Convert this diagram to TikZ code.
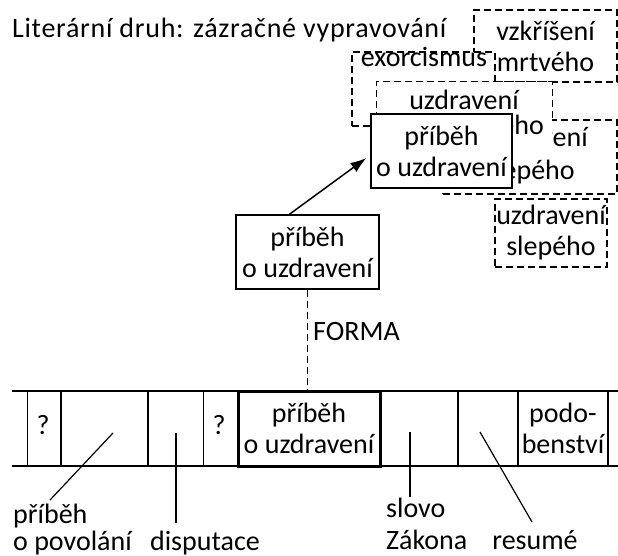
\documentclass[tikz,border=0pt]{standalone}
\usepackage{fontspec}
\setmainfont{Carlito}
\usetikzlibrary{arrows.meta}
\begin{document}
\begin{tikzpicture}[x=1pt,y=-1pt,
  txt/.style={font=\fontsize{28}{31}\selectfont, inner sep=0pt, align=center},
  dsh/.style={dash pattern=on 7pt off 4pt, line width=1.2pt},
  dbox/.style={txt, draw, dsh, fill=white},
  sbox/.style={txt, draw, fill=white, line width=1.3pt},
  cell/.style={txt, draw, line width=1.3pt, minimum height=75pt},
  conn/.style={line width=1.2pt}
]
\useasboundingbox (0,0) rectangle (618,556);

\node[txt, anchor=base west, font=\fontsize{28}{31}\selectfont\addfontfeature{LetterSpace=2.5}] (title) at (12,38) {Literární druh: zázračné vypravování};

% stacked dashed boxes
\node[dbox, minimum width=143pt, minimum height=72pt] (vzk) at (545.5,46) {vzkříšení\\mrtvého};
\node[dbox, minimum width=143pt, minimum height=74pt] (exo) at (423.5,89) {};
\node[txt, anchor=base] (exot) at (424,67) {exorcismus};
\node[dbox, minimum width=174pt, minimum height=74pt] (ups) at (530,157) {};
\node[txt, anchor=base] (upst1) at (533,147) {uzdravení};
\node[txt, anchor=base] (upst2) at (530,180) {slepého};
\node[fill=white, inner sep=0pt, minimum width=175pt, minimum height=70pt] (uzc) at (464.5,117) {};
\draw[dsh] (uzc.south west) -- (uzc.north west) -- (uzc.north east) -- (uzc.north east |- ups.north);
\node[txt, anchor=base] (uzct1) at (464,110) {uzdravení};
\node[txt, anchor=base east] (uzct2) at (544,135) {ého};

% front solid box
\node[sbox, minimum width=141pt, minimum height=74pt] (sol) at (441.5,151) {příběh\\o uzdravení};
\node[dbox, minimum width=112pt, minimum height=68pt] (uslep) at (551,233) {uzdravení\\slepého};

% middle box
\node[sbox, minimum width=143pt, minimum height=74pt] (mid) at (307.5,252) {příběh\\o uzdravení};
\path (mid.north west) ++(54,0) coordinate (a0);
\draw[conn, line width=1.5pt, -{Latex[length=16pt,width=11pt]}] (a0) -- ([shift={(-4,7)}]sol.west);

% band
\draw[line width=1.3pt] (12,391) -- (618,391);
\draw[line width=1.3pt] (12,466) -- (618,466);
\node[cell, minimum width=33.5pt] (c0) at (44.25,428.5) {};
\node[cell, minimum width=87pt] (c1) at (104.5,428.5) {};
\node[cell, minimum width=55.5pt] (c2) at (175.75,428.5) {};
\node[cell, minimum width=34.5pt] (c3) at (220.75,428.5) {};
\node[cell, minimum width=78pt] (c5) at (419,428.5) {};
\node[cell, minimum width=60pt] (c6) at (488,428.5) {};
\node[cell, minimum width=90pt] (c7) at (563,428.5) {podo-\\benství};
\node[cell, line width=3pt, minimum width=142pt] (c4) at (309,428.5) {příběh\\o uzdravení};
\node[txt] (q0) at (43,425) {?};
\node[txt] (q1) at (219,425) {?};

% FORMA
\draw[dsh] (mid.south) -- (mid.south |- c4.north);
\node[txt, anchor=base west] (forma) at (313,340) {FORMA};

% connectors to labels
\coordinate (k1) at (113,433); \coordinate (k1e) at (50,500);
\coordinate (k2) at (176,433); \coordinate (k2e) at (176,523);
\coordinate (k3) at (410,432); \coordinate (k3e) at (410,497);
\coordinate (k4) at (480,432); \coordinate (k4e) at (532,522);
\draw[conn] (k1) -- (k1e);
\draw[conn] (k2) -- (k2e);
\draw[conn] (k3) -- (k3e);
\draw[conn] (k4) -- (k4e);

\node[txt, anchor=base west] (l1a) at (13,523) {příběh};
\node[txt, anchor=base west] (l1b) at (13,550) {o povolání};
\node[txt, anchor=base] (l2) at (205,550) {disputace};
\node[txt, anchor=base west] (l3a) at (386,517) {slovo};
\node[txt, anchor=base west] (l3b) at (386,549) {Zákona};
\node[txt, anchor=base] (l4) at (535,549) {resumé};
\end{tikzpicture}
\end{document}
